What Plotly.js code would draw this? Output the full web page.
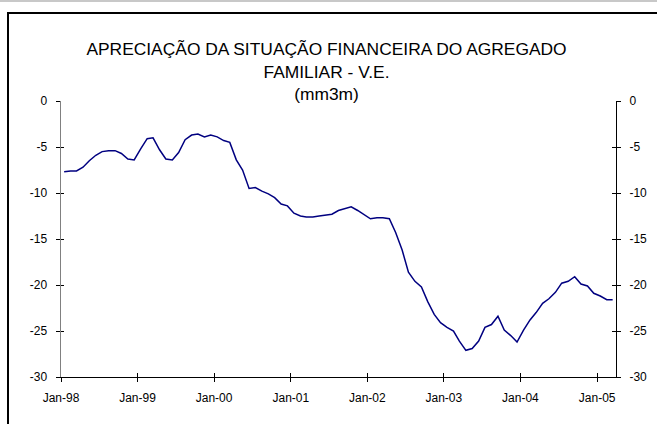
<!DOCTYPE html>
<html>
<head>
<meta charset="utf-8">
<script src="https://cdn.plot.ly/plotly-3.0.1.min.js"></script>
<style>
  html, body { margin: 0; padding: 0; background: #fff; overflow: hidden; }
  #chart { position: absolute; left: 0; top: 0; width: 657px; height: 424px; }
  #topline { position: absolute; left: 0; top: 0; width: 657px; height: 2px; background: #c8c8c8; }
  #frame { position: absolute; left: 7px; top: 12px; width: 800px; height: 600px; border: 2px solid #000; pointer-events: none; }
</style>
</head>
<body>
<div id="chart"></div>
<div id="topline"></div>
<div id="frame"></div>
<script>
// Monthly series, Jan-98 .. Mar-05 (mm3m)
const startYear = 1998;
const startMonth = 1;
const values = [
  -7.7, -7.6, -7.6, -7.2, -6.5, -5.9, -5.5, -5.4, -5.4, -5.7, -6.3, -6.4,   // 1998
  -5.2, -4.1, -4.0, -5.3, -6.3, -6.4, -5.6, -4.2, -3.7, -3.6, -3.9, -3.7,   // 1999
  -3.9, -4.3, -4.5, -6.4, -7.5, -9.5, -9.4, -9.8, -10.1, -10.5, -11.2, -11.4, // 2000
  -12.2, -12.5, -12.6, -12.6, -12.5, -12.4, -12.3, -11.9, -11.7, -11.5, -11.9, -12.3, // 2001
  -12.8, -12.7, -12.7, -12.8, -14.3, -16.2, -18.6, -19.6, -20.2, -21.8, -23.2, -24.1, // 2002
  -24.6, -25.0, -26.1, -27.1, -26.9, -26.1, -24.6, -24.3, -23.4, -24.9, -25.5, -26.2, // 2003
  -24.9, -23.8, -23.0, -22.0, -21.5, -20.8, -19.8, -19.6, -19.1, -19.9, -20.1, -20.9, // 2004
  -21.2, -21.6, -21.6                                                        // 2005
];
const xTickVals = ['1998-01-01','1999-01-01','2000-01-01','2001-01-01','2002-01-01','2003-01-01','2004-01-01','2005-01-01'];
const xTickText = ['Jan-98','Jan-99','Jan-00','Jan-01','Jan-02','Jan-03','Jan-04','Jan-05'];
const yTickVals = [0, -5, -10, -15, -20, -25, -30];
const yTickText = ['0', '-5', '-10', '-15', '-20', '-25', '-30'];
const xRange = ['1998-01-01', '2005-04-01'];
const yRange = [-30, 0];

const dates = values.map((v, i) => {
  const m = startMonth - 1 + i;
  const y = startYear + Math.floor(m / 12);
  const mm = (m % 12) + 1;
  return y + '-' + String(mm).padStart(2, '0') + '-16';
});

const font = { family: 'Liberation Sans, Arial, sans-serif', size: 12, color: '#000' };

const ghost = (xa, ya) => ({
  x: dates, y: values, type: 'scatter', mode: 'lines', xaxis: xa, yaxis: ya,
  line: { color: 'rgba(0,0,0,0)', width: 0 }, hoverinfo: 'skip', showlegend: false
});

const traces = [
  ghost('x2', 'y'),
  ghost('x', 'y2'),
  ghost('x', 'y3'),
  ghost('x', 'y4'),
  {
    x: dates, y: values, type: 'scatter', mode: 'lines', xaxis: 'x', yaxis: 'y',
    line: { color: '#000080', width: 1.5 },
    hoverinfo: 'skip', showlegend: false
  }
];

const layout = {
  width: 657, height: 424,
  margin: { l: 61, r: 41, t: 101, b: 47 },
  paper_bgcolor: 'rgba(0,0,0,0)', plot_bgcolor: 'rgba(0,0,0,0)',
  font: font,
  showlegend: false,
  title: {
    text: 'APRECIAÇÃO DA SITUAÇÃO FINANCEIRA DO AGREGADO<br>FAMILIAR - V.E.<br>(mm3m)',
    font: { family: 'Liberation Sans, Arial, sans-serif', size: 17.4, color: '#000' },
    xref: 'container', x: 0.497, xanchor: 'center',
    yref: 'container', y: 1 - 55 / 424, yanchor: 'top'
  },
  xaxis: {
    type: 'date', range: xRange, tickvals: xTickVals, ticktext: xTickText,
    ticks: 'outside', ticklen: 4, tickcolor: '#000', tickwidth: 1,
    showline: true, linecolor: '#000', linewidth: 1,
    showgrid: false, zeroline: false, tickfont: font, ticklabelstandoff: 6,
    anchor: 'y', fixedrange: true
  },
  xaxis2: {
    type: 'date', range: xRange, tickvals: xTickVals, ticktext: xTickText,
    overlaying: 'x', anchor: 'y', side: 'bottom',
    ticks: 'inside', ticklen: 4, tickcolor: '#000', tickwidth: 1,
    showticklabels: false, showline: false, showgrid: false, zeroline: false
  },
  yaxis: {
    range: yRange, tickvals: yTickVals, ticktext: yTickText,
    ticks: 'outside', ticklen: 4, tickcolor: '#000', tickwidth: 1,
    showline: true, linecolor: '#808080', linewidth: 1.5,
    showgrid: false, zeroline: false, tickfont: font, ticklabelstandoff: 6,
    anchor: 'x', side: 'left', fixedrange: true
  },
  yaxis3: {
    range: yRange, tickvals: yTickVals, ticktext: yTickText,
    overlaying: 'y', anchor: 'x', side: 'left',
    ticks: 'inside', ticklen: 3, tickcolor: '#000', tickwidth: 1,
    showticklabels: false, showline: false, showgrid: false, zeroline: false
  },
  yaxis2: {
    range: yRange, tickvals: yTickVals, ticktext: yTickText,
    overlaying: 'y', anchor: 'x', side: 'right',
    ticks: 'outside', ticklen: 4, tickcolor: '#000', tickwidth: 1,
    showline: true, linecolor: '#000', linewidth: 1,
    showgrid: false, zeroline: false, tickfont: font, ticklabelstandoff: 6
  },
  yaxis4: {
    range: yRange, tickvals: yTickVals, ticktext: yTickText,
    overlaying: 'y', anchor: 'x', side: 'right',
    ticks: 'inside', ticklen: 4, tickcolor: '#000', tickwidth: 1,
    showticklabels: false, showline: false, showgrid: false, zeroline: false
  }
};

Plotly.newPlot('chart', traces, layout, { staticPlot: true, displayModeBar: false });
</script>
</body>
</html>
